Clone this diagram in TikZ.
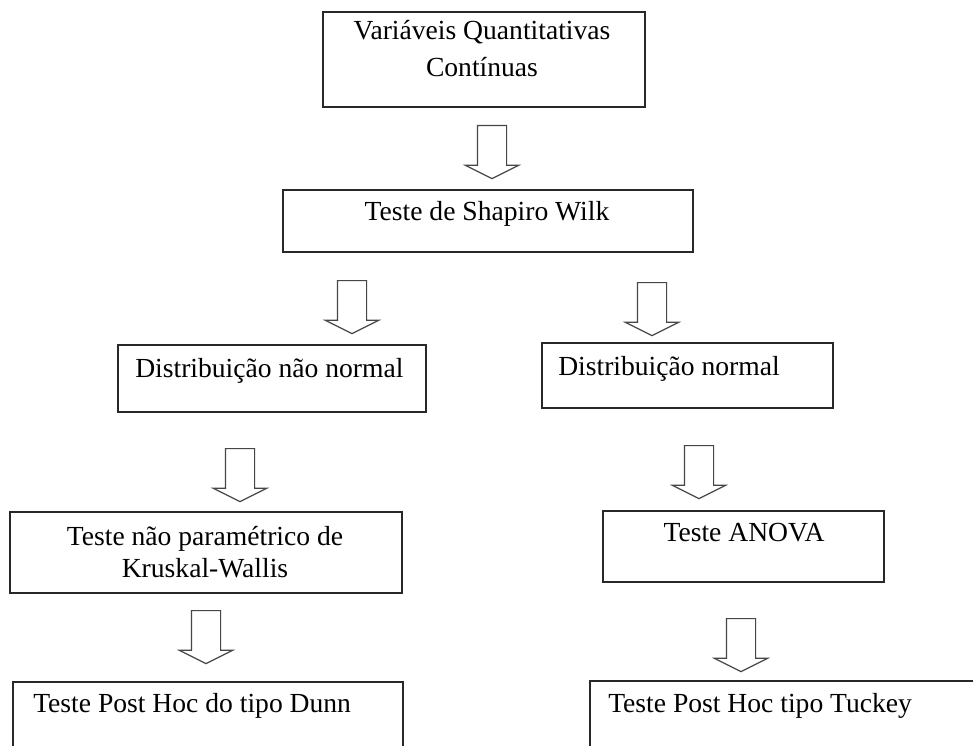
\documentclass[tikz,border=0pt]{standalone}
\usepackage{fontspec}
\setmainfont{Liberation Serif}
\usetikzlibrary{fit,shapes.arrows}
\definecolor{boxline}{RGB}{40,40,40}
\definecolor{arrline}{RGB}{70,70,70}

\begin{document}
\begin{tikzpicture}[x=0.75pt,y=-0.75pt,font=\fontsize{20.7}{24}\selectfont,
    box/.style={draw=boxline,line width=1.2pt,inner sep=0pt,fit={#1}},
    lbl/.style={inner sep=0pt,anchor=base},
    lblw/.style={inner sep=0pt,anchor=base west},
    down/.style={draw=arrline,line width=0.9pt,single arrow,shape border rotate=270,anchor=tail,
      inner sep=10.5pt,minimum height=39.75pt,single arrow head extend=9pt,
      single arrow tip angle=127,single arrow head indent=0pt}]
        \path[use as bounding box] (0,0) rectangle (973,745);
        \clip (0,0) rectangle (973,745);
        \fill[white] (0,0) rectangle (973,745);
        % boxes
        \node[box={(323,12) (645,107)}] (vqc) {};
        \node[box={(283,190) (693,252)}] (sw) {};
        \node[box={(118,345) (426,412)}] (dnn) {};
        \node[box={(542,343) (833,408)}] (dn) {};
        \node[box={(10,512) (402,593)}] (kw) {};
        \node[box={(603,511) (884,582)}] (anv) {};
        \node[box={(13,682) (403,770)}] (dun) {};
        \node[box={(590,681) (995,770)}] (tuk) {};
        % texts (base = last line)
        \node[lbl,align=center,font=\fontsize{20.7}{27.75}\selectfont] (vqct) at (482,77) {Variáveis Quantitativas\\Contínuas};
        \node[lbl] (swt) at (487,220) {Teste de Shapiro Wilk};
        \node[lblw] (dnnt) at (135,377) {Distribuição não normal};
        \node[lblw] (dnt) at (558,375) {Distribuição normal};
        \node[lbl,align=center] (kwt) at (205,577) {Teste não paramétrico de\\Kruskal-Wallis};
        \node[lbl] (anvt) at (744,541) {Teste ANOVA};
        \node[lblw] (dunt) at (33,712) {Teste Post Hoc do tipo Dunn};
        \node[lblw] (tukt) at (608,712) {Teste Post Hoc tipo Tuckey};
        % arrows
        \node[down] (a1) at (492,125) {};
        \node[down] (a2) at (352,280) {};
        \node[down] (a3) at (652,282) {};
        \node[down] (a4) at (240,448) {};
        \node[down] (a5) at (699,445) {};
        \node[down] (a6) at (206,610) {};
        \node[down] (a7) at (741,618) {};
      \end{tikzpicture}
\end{document}
